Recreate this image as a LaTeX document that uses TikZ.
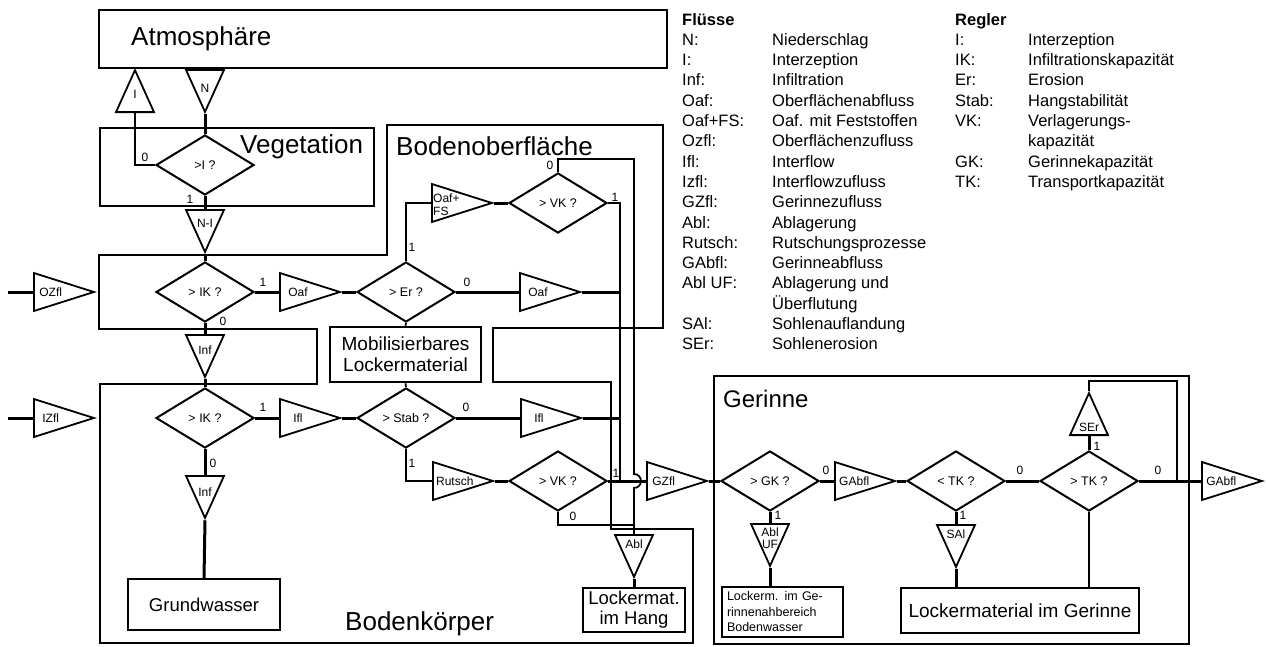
\documentclass[tikz,border=0pt]{standalone}
\usepackage{fontspec}
\setmainfont{Liberation Sans}
\usetikzlibrary{shapes.geometric, calc}

\tikzset{
  region/.style={line width=1.8pt},
  title/.style={font=\fontsize{26}{30}\selectfont, inner sep=0pt, anchor=base west},
  store/.style={draw, line width=1.8pt, inner sep=0pt, align=center,
    font=\fontsize{19}{21}\selectfont},
  decide/.style={diamond, draw, line width=2pt, inner sep=0pt,
    minimum width=98pt, minimum height=60pt, font=\fontsize{12.5}{14}\selectfont},
  tri/.style={isosceles triangle, isosceles triangle stretches, draw,
    line width=1.8pt, inner sep=0pt, anchor=lower side},
  rtri/.style={tri, minimum width=38pt, minimum height=60pt},
  dtri/.style={tri, shape border rotate=270, minimum width=38pt, minimum height=42pt},
  utri/.style={tri, shape border rotate=90, minimum width=38pt, minimum height=42pt},
  tlab/.style={font=\fontsize{12}{13}\selectfont, inner sep=0pt, align=center},
  num/.style={font=\fontsize{12}{12}\selectfont, inner sep=0pt},
  flow/.style={line width=3pt},
  route/.style={line width=1.8pt},
  legend/.style={font=\fontsize{16.5}{20.3}\selectfont, inner sep=0pt, anchor=base west},
}

\begin{document}
\begin{tikzpicture}[x=1pt, y=-1pt]
  \useasboundingbox (0,0) rectangle (1266,646);

  % Bereiche
  \draw[region] (99,10) rectangle (667,68);
  \node[title] (atmos) at (131,45) {Atmosphäre};
  \draw[region] (100,128) rectangle (374,206);
  \node[title] (veget) at (240,153) {Vegetation};
  \draw[region] (99,255) -- (387,255) -- (387,125) -- (663,125) -- (663,328)
    -- (493,328) -- (493,382) -- (611,382) -- (611,529) -- (693,529) -- (693,643)
    -- (100,643) -- (100,384) -- (317,384) -- (317,329) -- (99,329) -- cycle;
  \node[title] (bodob) at (396,155) {Bodenoberfläche};
  \node[title] (bodko) at (345,630) {Bodenkörper};
  \draw[region, line width=2.6pt] (714,376) rectangle (1189,644);
  \node[title, font=\fontsize{24}{28}\selectfont] (gerin) at (723,407) {Gerinne};

  % Vegetation
  \node[dtri] (tN) at (205,69) {};
  \node[tlab] (lN) at ($(tN.lower side)!.43!(tN.apex)$) {N};
  \node[decide] (dI) at (205,165) {>I ?};
  \node[utri] (tI) at (135,113) {};
  \node[tlab] (lI) at ($(tI.lower side)!.42!(tI.apex)$) {I};
  \node[dtri] (tNI) at (205,209) {};
  \node[tlab] (lNI) at ($(tNI.lower side)!.32!(tNI.apex)$) {N-I};
  \draw[flow] (tN.apex) -- (dI.north);
  \draw[route] (dI.west) -| (tI.lower side);
  \draw[flow] (dI.south) -- (tNI.lower side);
  \node[num] (nI0) at (145,157) {0};
  \node[num] (nI1) at (190,199) {1};

  % Bodenoberflaeche
  \coordinate (oin) at (8,292);
  \node[rtri] (tOzfl) at (33,292) {};
  \node[tlab] (lOzfl) at ($(tOzfl.lower side)!.28!(tOzfl.apex)$) {OZfl};
  \draw[flow] (oin) -- (tOzfl.lower side);
  \node[decide] (dIKa) at (205,292) {> IK ?};
  \draw[flow] (tNI.apex) -- (dIKa.north);
  \node[rtri] (tOafa) at (279,292) {};
  \node[tlab] (lOafa) at ($(tOafa.lower side)!.3!(tOafa.apex)$) {Oaf};
  \draw[flow] (dIKa.east) -- (tOafa.lower side);
  \node[num] (nIKa1) at (263,282) {1};
  \node[decide] (dEr) at (406,292) {> Er ?};
  \draw[flow] (tOafa.apex) -- (dEr.west);
  \node[rtri] (tOfs) at (431,203) {};
  \node[tlab, align=left, anchor=west, font=\fontsize{12}{13}\selectfont] (lOfs) at (433,205) {Oaf+\\FS};
  \draw[route] (dEr.north) |- (tOfs.lower side);
  \node[num] (nEr1) at (412,247) {1};
  \node[decide] (dVKa) at (558,203) {> VK ?};
  \draw[flow] (tOfs.apex) -- (dVKa.west);
  \node[rtri] (tOafb) at (519,292) {};
  \node[tlab] (lOafb) at ($(tOafb.lower side)!.3!(tOafb.apex)$) {Oaf};
  \draw[flow] (dEr.east) -- (tOafb.lower side);
  \node[num] (nEr0) at (467,282) {0};

  % Bodenkoerper
  \node[dtri] (tInfa) at (205,334) {};
  \node[tlab] (lInfa) at ($(tInfa.lower side)!.35!(tInfa.apex)$) {Inf};
  \draw[flow] (dIKa.south) -- (tInfa.lower side);
  \node[num] (nIKa0) at (223,321) {0};
  \node[decide] (dIKb) at (205,418) {> IK ?};
  \draw[flow] (tInfa.apex) -- (dIKb.north);
  \coordinate (iin) at (8,418);
  \node[rtri] (tIzfl) at (33,418) {};
  \node[tlab] (lIzfl) at ($(tIzfl.lower side)!.28!(tIzfl.apex)$) {IZfl};
  \draw[flow] (iin) -- (tIzfl.lower side);
  \node[rtri] (tIfla) at (279,418) {};
  \node[tlab] (lIfla) at ($(tIfla.lower side)!.3!(tIfla.apex)$) {Ifl};
  \draw[flow] (dIKb.east) -- (tIfla.lower side);
  \node[num] (nIKb1) at (263,407) {1};
  \node[store, minimum width=151pt, minimum height=55pt, line width=2.6pt] (mob) at (405.5,354.5) {Mobilisierbares\\Lockermaterial};
  \draw[route] (dEr.south) -- (mob.north);
  \node[decide] (dStab) at (406,418) {> Stab ?};
  \draw[route] (mob.south) -- (dStab.north);
  \draw[flow] (tIfla.apex) -- (dStab.west);
  \node[rtri] (tIflb) at (520,418) {};
  \node[tlab] (lIflb) at ($(tIflb.lower side)!.3!(tIflb.apex)$) {Ifl};
  \draw[flow] (dStab.east) -- (tIflb.lower side);
  \node[num] (nStab0) at (466,407) {0};
  \node[rtri] (tRutsch) at (432,481) {};
  \node[tlab] (lRutsch) at ($(tRutsch.lower side)!.36!(tRutsch.apex)$) {Rutsch};
  \draw[route] (dStab.south) |- (tRutsch.lower side);
  \node[num] (nStab1) at (412,463) {1};
  \node[decide] (dVKb) at (558,481) {> VK ?};
  \draw[flow] (tRutsch.apex) -- (dVKb.west);
  \node[rtri] (tGZfl) at (646,481) {};
  \node[tlab] (lGZfl) at ($(tGZfl.lower side)!.28!(tGZfl.apex)$) {GZfl};
  \coordinate (jz) at (620,481);
  \draw[flow] (dVKb.east) -- (tGZfl.lower side);
  \node[num] (nVKb1) at (616,473) {1};
  \draw[route] (dVKa.east) -| (jz);
  \node[num] (nVKa1) at (615,197) {1};
  \draw[flow] (tOafb.apex) -- (tOafb.apex -| jz);
  \draw[flow] (tIflb.apex) -- (tIflb.apex -| jz);
  \node[dtri] (tAbl) at (634,534) {};
  \node[tlab] (lAbl) at ($(tAbl.lower side)!.22!(tAbl.apex)$) {Abl};
  \draw[route] (dVKa.north) |- (634,159) -- (634,474)
    arc[start angle=-90, end angle=90, radius=7] -- (tAbl.lower side);
  \node[num] (nVKa0) at (550,165) {0};
  \draw[route] (dVKb.south) |- (634,525);
  \node[num] (nVKb0) at (573,516) {0};
  \node[store, minimum width=102pt, minimum height=44pt, line width=2.2pt, font=\fontsize{18.5}{20}\selectfont] (lhang) at (634,610) {Lockermat.\\im Hang};
  \draw[flow] (tAbl.apex) -- (lhang.north);
  \node[dtri] (tInfb) at (205,475) {};
  \node[tlab] (lInfb) at ($(tInfb.lower side)!.38!(tInfb.apex)$) {Inf};
  \draw[flow] (dIKb.south) -- (tInfb.lower side);
  \node[num] (nIKb0) at (213,463) {0};
  \node[store, minimum width=152pt, minimum height=51pt, font=\fontsize{18.5}{20}\selectfont] (gw) at (204,604.5) {Grundwasser};
  \draw[flow] (tInfb.apex) -- (gw.north);

  % Gerinne
  \node[decide] (dGK) at (770,481) {> GK ?};
  \draw[flow] (tGZfl.apex) -- (dGK.west);
  \node[rtri] (tGAbfla) at (834,481) {};
  \node[tlab] (lGAbfla) at ($(tGAbfla.lower side)!.32!(tGAbfla.apex)$) {GAbfl};
  \draw[flow] (dGK.east) -- (tGAbfla.lower side);
  \node[num] (nGK0) at (826,470) {0};
  \node[dtri] (tAblUF) at (770,523) {};
  \node[tlab, font=\fontsize{12}{12}\selectfont] (lAblUF) at ($(tAblUF.lower side)!.34!(tAblUF.apex)$) {Abl\\UF};
  \draw[flow] (dGK.south) -- (tAblUF.lower side);
  \node[num] (nGK1) at (778,515) {1};
  \node[store, align=left, text width=111pt, inner xsep=5pt, minimum height=50pt, font=\fontsize{12.5}{15.5}\selectfont] (lgn) at (782.5,612) {Lockerm. im Ge-\\rinnenahbereich\\Bodenwasser};
  \draw[flow] (tAblUF.apex) -- (tAblUF.apex |- lgn.north);
  \node[decide] (dTKa) at (956,481) {< TK ?};
  \draw[flow] (tGAbfla.apex) -- (dTKa.west);
  \node[dtri] (tSAl) at (956,524) {};
  \node[tlab] (lSAl) at ($(tSAl.lower side)!.22!(tSAl.apex)$) {SAl};
  \draw[flow] (dTKa.south) -- (tSAl.lower side);
  \node[num] (nTKa1) at (963,515) {1};
  \node[store, minimum width=238pt, minimum height=45pt] (lmg) at (1020,610.5) {Lockermaterial im Gerinne};
  \draw[flow] (tSAl.apex) -- (tSAl.apex |- lmg.north);
  \node[decide] (dTKb) at (1089,481) {> TK ?};
  \draw[flow] (dTKa.east) -- (dTKb.west);
  \node[num] (nTKa0) at (1020,470) {0};
  \node[utri] (tSEr) at (1089,436) {};
  \node[tlab] (lSEr) at ($(tSEr.lower side)!.2!(tSEr.apex)$) {SEr};
  \draw[flow] (dTKb.north) -- (tSEr.lower side);
  \node[num] (nTKb1) at (1097,446) {1};
  \coordinate (jg) at (1177,481);
  \draw[route] (tSEr.apex) -- ++(0,-10) -| (jg);
  \draw[route] (dTKb.south) -- (dTKb.south |- lmg.north);
  \node[rtri] (tGAbflb) at (1201,481) {};
  \node[tlab] (lGAbflb) at ($(tGAbflb.lower side)!.32!(tGAbflb.apex)$) {GAbfl};
  \draw[flow] (dTKb.east) -- (tGAbflb.lower side);
  \node[num] (nTKb0) at (1158,470) {0};

  % Legende
  \node[legend] (flu) at (682,25) {\begin{tabular}[t]{@{}p{90pt}@{}l@{}}
    \textbf{Flüsse} & \\
    N: & Niederschlag\\
    I: & Interzeption\\
    Inf: & Infiltration\\
    Oaf: & Oberflächenabfluss\\
    Oaf+FS: & Oaf. mit Feststoffen\\
    Ozfl: & Oberflächenzufluss\\
    Ifl: & Interflow\\
    Izfl: & Interflowzufluss\\
    GZfl: & Gerinnezufluss\\
    Abl: & Ablagerung\\
    Rutsch: & Rutschungsprozesse\\
    GAbfl: & Gerinneabfluss\\
    Abl UF: & Ablagerung und\\
     & Überflutung\\
    SAl: & Sohlenauflandung\\
    SEr: & Sohlenerosion
  \end{tabular}};
  \node[legend] (reg) at (955,25) {\begin{tabular}[t]{@{}p{73pt}@{}l@{}}
    \textbf{Regler} & \\
    I: & Interzeption\\
    IK: & Infiltrationskapazität\\
    Er: & Erosion\\
    Stab: & Hangstabilität\\
    VK: & Verlagerungs-\\
     & kapazität\\
    GK: & Gerinnekapazität\\
    TK: & Transportkapazität
  \end{tabular}};
\end{tikzpicture}
\end{document}
